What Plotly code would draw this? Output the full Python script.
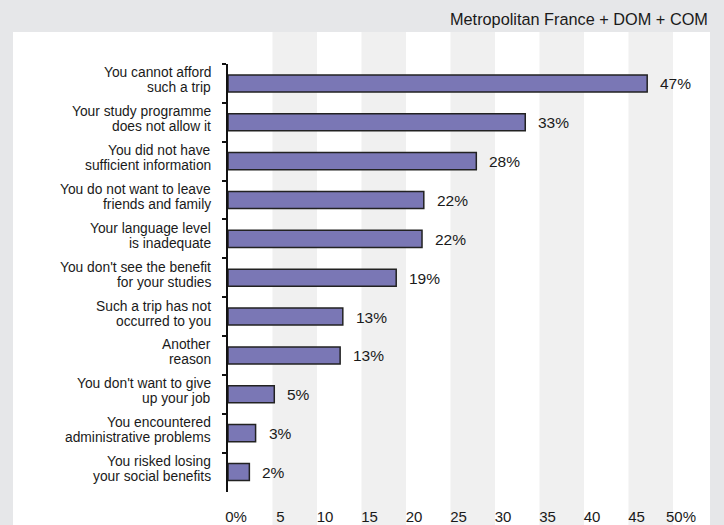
import plotly.graph_objects as go

# ---- data ----
line1 = ["You cannot afford", "Your study programme", "You did not have",
         "You do not want to leave", "Your language level", "You don't see the benefit",
         "Such a trip has not", "Another", "You don't want to give",
         "You encountered", "You risked losing"]
line2 = ["such a trip", "does not allow it", "sufficient information",
         "friends and family", "is inadequate", "for your studies",
         "occurred to you", "reason", "up your job",
         "administrative problems", "your social benefits"]
values = [47.1, 33.4, 27.9, 22.0, 21.8, 18.9, 12.9, 12.6, 5.2, 3.1, 2.4]
tick_vals = [0, 5, 10, 15, 20, 25, 30, 35, 40, 45, 50]
tick_text = ["0%", "5", "10", "15", "20", "25", "30", "35", "40", "45", "50%"]
stripes = [(5, 10), (15, 20), (25, 30), (35, 40), (45, 50)]
subtitle = "Metropolitan France + DOM + COM"

FONT = "Liberation Sans Narrow, Arial Narrow, Liberation Sans, Arial, sans-serif"
TXT = "#1a1a1a"

cats = [f"{a} {b}" for a, b in zip(line1, line2)]

W, H = 724, 525
ML, MR, MT, MB = 228, 51, 64, 33
PW, PH = W - ML - MR, H - MT - MB

def px_x(p):
    return (p - ML) / PW

def px_y(p):
    return 1 - (p - MT) / PH

fig = go.Figure()
fig.add_trace(go.Bar(
    x=values, y=cats, orientation="h",
    width=0.44,
    marker=dict(color="#7a77b5", line=dict(color="#222222", width=1.5)),
    hoverinfo="skip",
))

shapes = [dict(type="rect", xref="paper", yref="paper",
               x0=px_x(13), x1=px_x(710), y0=px_y(540), y1=px_y(32),
               fillcolor="white", line=dict(width=0), layer="below")]
for a, b in stripes:
    shapes.append(dict(type="rect", xref="x", yref="paper",
                       x0=a, x1=b, y0=px_y(540), y1=px_y(32),
                       fillcolor="#f0f0f0", line=dict(width=0), layer="below"))

annotations = []
for c, a, b in zip(cats, line1, line2):
    annotations.append(dict(x=0, xref="paper", y=c, yref="y", text=a,
                            xanchor="right", yanchor="middle", xshift=-15, yshift=10.5,
                            showarrow=False, font=dict(family=FONT, size=13.8, color=TXT)))
    annotations.append(dict(x=0, xref="paper", y=c, yref="y", text=b,
                            xanchor="right", yanchor="middle", xshift=-15, yshift=-4.5,
                            showarrow=False, font=dict(family=FONT, size=13.8, color=TXT)))
for c, v in zip(cats, values):
    annotations.append(dict(x=v, xref="x", y=c, yref="y", text=f"{v:.0f}%",
                            xanchor="left", yanchor="middle", xshift=11, yshift=-0.5,
                            showarrow=False, font=dict(family=FONT, size=15.5, color=TXT)))
annotations.append(dict(x=px_x(710), xref="paper", y=px_y(19), yref="paper",
                        text=subtitle, xanchor="right", yanchor="middle",
                        showarrow=False, font=dict(family=FONT, size=16.3, color=TXT)))

fig.update_layout(
    width=W, height=H,
    margin=dict(l=ML, r=MR, t=MT, b=MB, pad=0, autoexpand=False),
    paper_bgcolor="#e6e7e9",
    plot_bgcolor="rgba(0,0,0,0)",
    showlegend=False,
    shapes=shapes,
    annotations=annotations,
    bargap=0.5,
)
fig.update_xaxes(
    range=[0, 50], tickvals=tick_vals, ticktext=tick_text,
    showgrid=False, zeroline=False, showline=False, ticks="",
    tickfont=dict(family=FONT, size=15, color=TXT),
    ticklabelshift=8, ticklabelstandoff=14, automargin=False,
)
fig.update_yaxes(
    categoryorder="array", categoryarray=cats, autorange="reversed",
    showticklabels=False, showgrid=False, zeroline=False,
    showline=True, linecolor="#111111", linewidth=1.5,
    ticks="outside", ticklen=4, tickcolor="#111111", tickwidth=1.5,
    tickson="boundaries", automargin=False,
)

fig.write_html(
    "out.html",
    config={"displayModeBar": False},
    post_script="document.body.style.margin='0';document.body.style.overflow='hidden';",
)
